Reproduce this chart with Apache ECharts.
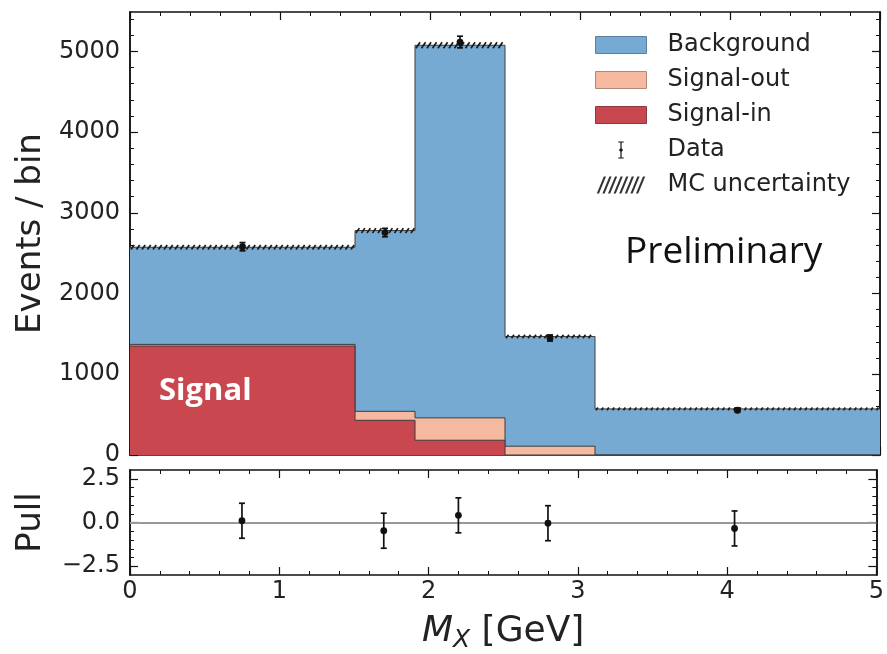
<!DOCTYPE html>
<html>
<head>
<meta charset="utf-8">
<script src="https://cdn.jsdelivr.net/npm/echarts@6/dist/echarts.min.js"></script>
<style>
  html, body { margin: 0; padding: 0; background: #fff; }
  #chart { width: 887px; height: 654px; }
</style>
</head>
<body>
<div id="chart"></div>
<script>
// histogram bins (GeV)
const edges = [0, 1.5, 1.9, 2.5, 3.1, 5]
const signalIn = [1350, 430, 183, 0, 0]
const signalOut = [20, 111, 277, 109, 0]
const background = [1203, 2239, 4615, 1359, 571]
const mcUnc = [28, 30, 36, 22, 16]
// data points
const dataX = [0.75, 1.7, 2.2, 2.8, 4.05]
const dataY = [2580, 2755, 5115, 1449, 554]
const dataErr = [51, 52, 72, 38, 24]
// pull panel
const pullY = [0.1, -0.47, 0.41, -0.04, -0.34]
const pullErr = [1, 1, 1, 1, 1]
// ticks
const yTicks = [0, 1000, 2000, 3000, 4000, 5000]
const yMinor = [200, 400, 600, 800, 1200, 1400, 1600, 1800, 2200, 2400, 2600, 2800,
  3200, 3400, 3600, 3800, 4200, 4400, 4600, 4800, 5200, 5400]
const pullTicks = [-2.5, 0, 2.5]
const pullMinor = [-2.0, -1.5, -1.0, -0.5, 0.5, 1.0, 1.5, 2.0]

const FONT = 'DejaVu Sans'
const INK = '#111'
const C_BKG = '#76aad2'
const C_OUT = '#f4b99e'
const C_IN = '#c94850'

// cumulative stack heights
const cumIn = []
const cumOut = []
const cumAll = []
for (let i = 0; i < background.length; i++) {
  cumIn.push(signalIn[i])
  cumOut.push(signalIn[i] + signalOut[i])
  cumAll.push(signalIn[i] + signalOut[i] + background[i])
}
// step points: value i holds from edges[i] to edges[i+1]
function stepPts(vals) {
  return edges.map((x, i) => [x, vals[Math.min(i, vals.length - 1)]])
}
const rowsUnc = cumAll.map((c, i) => [edges[i], edges[i + 1], c, mcUnc[i]])
const dataRows = dataX.map((x, i) => [x, dataY[i], dataErr[i]])
const pullRows = dataX.map((x, i) => [x, pullY[i], pullErr[i]])

function hatch(params, api) {
  const c = api.value(2)
  const u = api.value(3)
  const p0 = api.coord([api.value(0), c + u])
  const p1 = api.coord([api.value(1), c - u])
  const h = p1[1] - p0[1]
  const children = []
  for (let x = p0[0] + 1; x + h * 0.7 <= p1[0]; x += 5.5) {
    children.push({
      type: 'line',
      shape: { x1: x, y1: p1[1], x2: x + h * 0.7, y2: p0[1] },
      style: { stroke: '#1a1a1a', lineWidth: 1.7 }
    })
  }
  return { type: 'group', children: children }
}

function errPoint(params, api) {
  const x = api.value(0)
  const y = api.value(1)
  const e = api.value(2)
  const c = api.coord([x, y])
  const t = api.coord([x, y + e])
  const b = api.coord([x, y - e])
  const st = { stroke: INK, lineWidth: 1.7 }
  return {
    type: 'group',
    children: [
      { type: 'line', shape: { x1: c[0], y1: t[1], x2: c[0], y2: b[1] }, style: st },
      { type: 'line', shape: { x1: c[0] - 3, y1: t[1], x2: c[0] + 3, y2: t[1] }, style: st },
      { type: 'line', shape: { x1: c[0] - 3, y1: b[1], x2: c[0] + 3, y2: b[1] }, style: st },
      { type: 'circle', shape: { cx: c[0], cy: c[1], r: 3.4 }, style: { fill: INK } }
    ]
  }
}

const axisLine = { show: true, onZero: false, lineStyle: { color: INK, width: 1.5 } }
const labelStyle = { fontFamily: FONT, fontSize: 24, color: '#222' }

function xAx(grid, pos, showLabel, name) {
  return {
    type: 'value', gridIndex: grid, position: pos, min: 0, max: 5, interval: 1,
    axisLine: axisLine,
    axisTick: { show: true, inside: true, length: 8, lineStyle: { color: INK, width: 1.2 } },
    minorTick: { show: true, splitNumber: 5, length: 4, lineStyle: { color: INK, width: 1 } },
    axisLabel: Object.assign({ show: showLabel, margin: 5 }, labelStyle),
    splitLine: { show: false },
    name: name || '',
    nameLocation: 'middle',
    nameGap: 36,
    nameTextStyle: {
      fontFamily: FONT, fontSize: 36, color: '#222',
      rich: {
        i: { fontFamily: FONT, fontSize: 36, fontStyle: 'italic', color: '#222' },
        s: { fontFamily: FONT, fontSize: 25, fontStyle: 'italic', color: '#222', verticalAlign: 'bottom', padding: [17, 0, 0, 0] },
        n: { fontFamily: FONT, fontSize: 36, color: '#222' }
      }
    }
  }
}

function yAx(grid, pos, min, max, values, len, showLabel, fmt, name) {
  return {
    type: 'value', gridIndex: grid, position: pos, min: min, max: max,
    axisLine: axisLine,
    axisTick: { show: true, inside: true, length: len, customValues: values, lineStyle: { color: INK, width: len > 5 ? 1.2 : 1 } },
    axisLabel: Object.assign({ show: showLabel, customValues: values, margin: 10, formatter: fmt }, labelStyle),
    splitLine: { show: false },
    name: name || '',
    nameLocation: 'middle',
    nameGap: 82,
    nameTextStyle: { fontFamily: FONT, fontSize: 34, color: '#222' }
  }
}

const pullFmt = v => (v < 0 ? '\u2212' : '') + Math.abs(v).toFixed(1)
const YMAX = 5487
const PMIN = -3
const PMAX = 3

let hatchIcon = 'path://'
for (let x = 0; x < 44; x += 5.6) {
  hatchIcon += 'M' + x + ',17L' + (x + 2.2) + ',17L' + (x + 9.2) + ',0L' + (x + 7) + ',0Z'
}
const dataIcon = 'path://M-3.2,-10H3.2V-8.8H0.7V-1.9A2,2,0,0,1,0.7,1.9V8.8H3.2V10H-3.2V8.8H-0.7V1.9A2,2,0,0,1,-0.7,-1.9V-8.8H-3.2Z'

function histLine(name, vals, color, z) {
  return {
    name: name, type: 'line', xAxisIndex: 0, yAxisIndex: 0, step: 'end', z: z,
    symbol: 'none', showSymbol: false,
    lineStyle: { color: '#3d3d3d', width: 1 },
    itemStyle: { color: color },
    areaStyle: { color: color, opacity: 1, origin: 'start' },
    data: stepPts(vals)
  }
}

const chart = echarts.init(document.getElementById('chart'))
const option = {
  animation: false,
  backgroundColor: '#fff',
  grid: [
    { left: 130, right: 7, top: 12, height: 443 },
    { left: 130, right: 7, top: 470, height: 111 }
  ],
  xAxis: [
    xAx(0, 'bottom', false),
    xAx(0, 'top', false),
    xAx(1, 'bottom', true, '{i|M}{s|X}{n| [GeV]}'),
    xAx(1, 'top', false)
  ],
  yAxis: [
    yAx(0, 'left', 0, YMAX, yTicks, 8, true, v => String(v), 'Events / bin'),
    yAx(0, 'left', 0, YMAX, yMinor, 4, false),
    yAx(0, 'right', 0, YMAX, yTicks, 8, false),
    yAx(0, 'right', 0, YMAX, yMinor, 4, false),
    yAx(1, 'left', PMIN, PMAX, pullTicks, 8, true, pullFmt, 'Pull'),
    yAx(1, 'left', PMIN, PMAX, pullMinor, 4, false),
    yAx(1, 'right', PMIN, PMAX, pullTicks, 8, false),
    yAx(1, 'right', PMIN, PMAX, pullMinor, 4, false)
  ],
  legend: {
    orient: 'vertical',
    left: 595,
    top: 33,
    itemWidth: 51,
    itemHeight: 17,
    itemGap: 11,
    padding: 0,
    selectedMode: false,
    textStyle: { fontFamily: FONT, fontSize: 24, color: '#222', padding: [0, 0, 0, 16] },
    data: [
      { name: 'Background', icon: 'rect', itemStyle: { color: C_BKG, borderColor: '#5b7f9c', borderWidth: 1 } },
      { name: 'Signal-out', icon: 'rect', itemStyle: { color: C_OUT, borderColor: '#b08a78', borderWidth: 1 } },
      { name: 'Signal-in', icon: 'rect', itemStyle: { color: C_IN, borderColor: '#8a3a40', borderWidth: 1 } },
      { name: 'Data', icon: dataIcon, itemStyle: { color: INK } },
      { name: 'MC uncertainty', icon: hatchIcon, itemStyle: { color: '#333' } }
    ]
  },
  graphic: [
    {
      type: 'text', left: 159, top: 376, z: 100,
      style: { text: 'Signal', fill: '#fff', font: 'bold 31px "Open Sans"' }
    },
    {
      type: 'text', left: 625, top: 234, z: 100,
      style: { text: 'Preliminary', fill: '#111', font: '37px "Open Sans"' }
    }
  ],
  series: [
    histLine('Background', cumAll, C_BKG, 2),
    histLine('Signal-out', cumOut, C_OUT, 3),
    histLine('Signal-in', cumIn, C_IN, 4),
    {
      name: 'MC uncertainty', type: 'custom', xAxisIndex: 0, yAxisIndex: 0,
      renderItem: hatch, itemStyle: { color: '#333' }, z: 5,
      encode: { x: [0, 1], y: 2 }, data: rowsUnc
    },
    {
      name: 'Data', type: 'custom', xAxisIndex: 0, yAxisIndex: 0,
      renderItem: errPoint, itemStyle: { color: INK }, z: 6,
      encode: { x: 0, y: 1 }, data: dataRows
    },
    {
      name: 'Pull', type: 'custom', xAxisIndex: 2, yAxisIndex: 4,
      renderItem: errPoint, itemStyle: { color: INK }, z: 5,
      encode: { x: 0, y: 1 }, data: pullRows,
      markLine: {
        silent: true, symbol: 'none', label: { show: false },
        lineStyle: { color: '#999', width: 2, type: 'solid' },
        data: [{ yAxis: 0 }]
      }
    }
  ]
}
chart.setOption(option)
</script>
</body>
</html>
